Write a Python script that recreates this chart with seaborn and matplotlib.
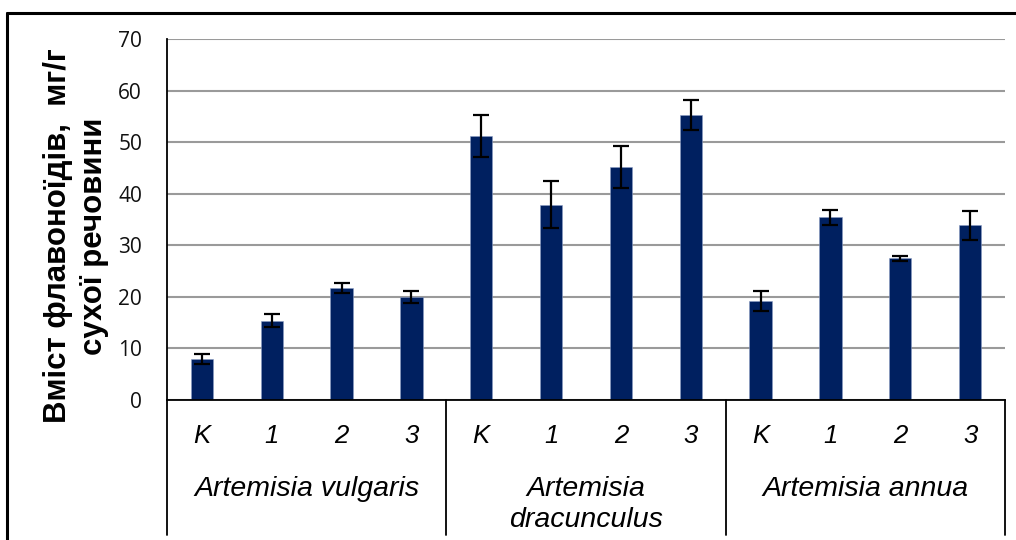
import matplotlib
matplotlib.use("Agg")
import matplotlib.pyplot as plt
import seaborn as sns
import pandas as pd
from matplotlib.lines import Line2D

# --- data ---
species = ["Artemisia vulgaris", "Artemisia\ndracunculus", "Artemisia annua"]
treatments = ["K", "1", "2", "3"]
values = [7.9, 15.4, 21.7, 20.0,
          51.2, 37.9, 45.2, 55.2,
          19.2, 35.4, 27.5, 33.9]
errors = [1.0, 1.2, 0.9, 1.1,
          4.1, 4.6, 4.0, 2.9,
          1.9, 1.4, 0.5, 2.8]

rows = []
for i, sp in enumerate(species):
    for j, tr in enumerate(treatments):
        rows.append({"key": f"{i}-{tr}", "species": sp, "treatment": tr,
                     "value": values[i * 4 + j], "err": errors[i * 4 + j]})
df = pd.DataFrame(rows)

sns.set_theme(style="white")
plt.rcParams["font.family"] = ["Liberation Sans", "DejaVu Sans"]
plt.rcParams["text.color"] = "black"

fig = plt.figure(figsize=(10.16, 5.4), dpi=100)
ax = fig.add_axes([167 / 1016, 1 - 400 / 540, (1005 - 167) / 1016, 361 / 540])

bar_color = "#002060"
sns.barplot(data=df, x="key", y="value", color=bar_color, width=0.32,
            errorbar=None, saturation=1, ax=ax, edgecolor="#8a9cc4", linewidth=0.4)
ax.errorbar(range(len(df)), df["value"], yerr=df["err"], fmt="none",
            ecolor="black", elinewidth=1.6, capsize=6, capthick=1.6)

ax.set_ylim(0, 70)
ax.set_xlim(-0.5, len(df) - 0.5)
ax.set_yticks(range(0, 71, 10))
ax.yaxis.grid(True, color="#9a9a9a", linewidth=1.5)
ax.set_axisbelow(True)
for s in ["top", "right"]:
    ax.spines[s].set_visible(False)
for s in ["left", "bottom"]:
    ax.spines[s].set_color("black")
    ax.spines[s].set_linewidth(1.3)

ax.tick_params(axis="y", length=0, pad=18, labelsize=15, colors="#111111")
for lab in ax.get_yticklabels():
    lab.set_family(["Open Sans", "DejaVu Sans"])

ax.set_xticks(range(len(df)))
ax.set_xticklabels(df["treatment"], fontsize=18.5, style="italic")
ax.tick_params(axis="x", length=0, pad=17, colors="black")
ax.set_xlabel("")
ax.set_ylabel("")

# y label placed as two bold rotated lines
fig.text(76 / 1016, 1 - 236 / 540, "Вміст флавоноїдів,  мг/г\nсухої речовини",
         rotation=90, ha="center", va="center", fontsize=22.5,
         fontweight="bold", linespacing=1.22, color="black")

# group separators and species labels under the axis
xt = ax.get_xaxis_transform()
for b in [-0.5, 3.5, 7.5, 11.5]:
    ax.plot([b, b], [0, -0.375], color="black", linewidth=1.3,
            transform=xt, clip_on=False)
for i, sp in enumerate(species):
    ax.text(i * 4 + 1.5, -0.21, sp, transform=xt, ha="center", va="top",
            fontsize=20.5, style="italic", linespacing=1.25)

# outer frame (top and left edges of the cropped chart border)
fig.add_artist(Line2D([7 / 1016, 1.0], [1 - 13 / 540, 1 - 13 / 540],
                      color="black", linewidth=2.2, transform=fig.transFigure))
fig.add_artist(Line2D([7 / 1016, 7 / 1016], [0, 1 - 13 / 540],
                      color="black", linewidth=2.2, transform=fig.transFigure))

fig.savefig("out.png", dpi=100)
